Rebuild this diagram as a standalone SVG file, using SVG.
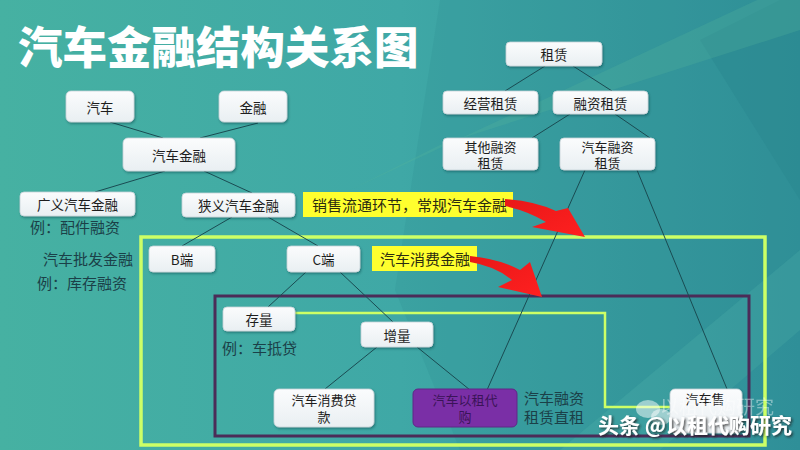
<svg xmlns="http://www.w3.org/2000/svg" width="800" height="450" viewBox="0 0 800 450">
<defs>
<linearGradient id="bg" x1="0" y1="0" x2="1" y2="0">
<stop offset="0" stop-color="#46b1a2"/>
<stop offset="0.5" stop-color="#3fa8a6"/>
<stop offset="1" stop-color="#2f8f98"/>
</linearGradient>
<linearGradient id="nodeg" x1="0" y1="0" x2="0" y2="1">
<stop offset="0" stop-color="#fbfcfd"/>
<stop offset="1" stop-color="#e9eff2"/>
</linearGradient>
<linearGradient id="redg" x1="0" y1="0" x2="1" y2="1">
<stop offset="0" stop-color="#e81818"/>
<stop offset="1" stop-color="#ff2020"/>
</linearGradient>
<filter id="sh" x="-10%" y="-10%" width="130%" height="140%">
<feDropShadow dx="1" dy="1.5" stdDeviation="1" flood-color="#0d3c40" flood-opacity="0.45"/>
</filter>
<filter id="tsh" x="-5%" y="-20%" width="115%" height="160%">
<feDropShadow dx="1.5" dy="1.5" stdDeviation="0.8" flood-color="#222" flood-opacity="0.8"/>
</filter>
</defs>
<style>
.node rect{fill:url(#nodeg);stroke:#c5d3d8;stroke-width:0.8}
.node text,.t{font-family:"Noto Sans CJK SC","Liberation Sans",sans-serif;font-size:13.5px;fill:#1d1d1d;text-anchor:middle;dominant-baseline:central}
.node text.s2,.t.s2{font-size:13px}
.note{font-family:"Noto Sans CJK SC","Liberation Sans",sans-serif;font-size:15px;fill:#1b4048;dominant-baseline:central}
.yl rect{fill:#ffff2e}
.yl text{font-family:"Noto Sans CJK SC","Liberation Sans",sans-serif;font-size:15px;fill:#2b2b10;dominant-baseline:central}
#connectors line{stroke:#1a4b52;stroke-width:1}
.arrow{fill:url(#redg)}
</style>

<rect width="800" height="450" fill="url(#bg)"/>
<polygon points="440,0 800,0 800,250 560,450 460,450 395,290" fill="#2f8f92" opacity="0.25"/>
<polygon points="700,40 780,0 800,0 800,200" fill="#2a8790" opacity="0.5"/>
<polygon points="350,190 800,-20 800,30 440,145" fill="#57b89a" opacity="0.25"/>
<polygon points="560,450 800,250 800,330 660,450" fill="#48aaa2" opacity="0.35"/>

<text x="18" y="64" font-family="'Noto Sans CJK SC','Liberation Sans',sans-serif" font-size="44.5" font-weight="900" fill="#ffffff">汽车金融结构关系图</text>

<g id="frames">
<rect x="141" y="237" width="624" height="208" fill="none" stroke="#cdff66" stroke-width="3.5"/>
<rect x="215" y="296" width="534" height="140" fill="none" stroke="#4b2c58" stroke-width="3"/>
<polyline points="295,313 605,313 605,407 670,407" fill="none" stroke="#cdff66" stroke-width="2.5"/>
</g>

<g id="connectors">
<line x1="110" y1="122" x2="163" y2="138"/>
<line x1="258" y1="123" x2="200" y2="138"/>
<line x1="165" y1="171" x2="95" y2="192"/>
<line x1="204" y1="171" x2="252" y2="193"/>
<line x1="232" y1="217" x2="182" y2="246"/>
<line x1="268" y1="217" x2="318" y2="246"/>
<line x1="306" y1="272" x2="268" y2="307"/>
<line x1="340" y1="272" x2="393" y2="322"/>
<line x1="377" y1="347" x2="325" y2="389"/>
<line x1="417" y1="347" x2="470" y2="390"/>
<line x1="545" y1="66" x2="505" y2="91"/>
<line x1="573" y1="66" x2="612" y2="91"/>
<line x1="570" y1="114" x2="532" y2="138"/>
<line x1="615" y1="114" x2="650" y2="138"/>
<line x1="585" y1="170" x2="487" y2="390"/>
<line x1="637" y1="170" x2="727" y2="389"/>
</g>

<g id="n-qiche" class="node"><rect x="66" y="91" width="68" height="31" rx="5" filter="url(#sh)"/><text x="100" y="106.5">汽车</text></g>
<g id="n-jinrong" class="node"><rect x="219" y="91" width="68" height="31" rx="5" filter="url(#sh)"/><text x="253" y="106.5">金融</text></g>
<g id="n-qichejinrong" class="node"><rect x="123" y="138" width="112" height="33" rx="5" filter="url(#sh)"/><text x="179" y="154.5">汽车金融</text></g>
<g id="n-guangyi" class="node"><rect x="20" y="192" width="115" height="24" rx="4" filter="url(#sh)"/><text x="77.5" y="204">广义汽车金融</text></g>
<g id="n-xiayi" class="node"><rect x="182" y="193" width="113" height="24" rx="4" filter="url(#sh)"/><text x="238.5" y="205">狭义汽车金融</text></g>
<g id="n-bduan" class="node"><rect x="149" y="246" width="66" height="26" rx="4" filter="url(#sh)"/><text x="182" y="259">B端</text></g>
<g id="n-cduan" class="node"><rect x="287" y="246" width="73" height="26" rx="4" filter="url(#sh)"/><text x="323.5" y="259">C端</text></g>
<g id="n-cunliang" class="node"><rect x="223" y="307" width="72" height="24" rx="4" filter="url(#sh)"/><text x="259" y="319">存量</text></g>
<g id="n-zengliang" class="node"><rect x="361" y="322" width="72" height="25" rx="4" filter="url(#sh)"/><text x="397" y="334.5">增量</text></g>
<g id="n-xiaofeidai" class="node"><rect x="274" y="389" width="100" height="38" rx="5" filter="url(#sh)"/><text class="s2" x="324" y="399">汽车消费贷</text><text class="s2" x="324" y="416.5">款</text></g>
<g id="n-yizudaigou"><rect x="413" y="389" width="104" height="38" rx="5" fill="#7a2fa6" stroke="#5e2886" stroke-width="1"/><text class="t s2" x="465" y="399" style="fill:#3a1458">汽车以租代</text><text class="t s2" x="465" y="416.5" style="fill:#3a1458">购</text></g>
<g id="n-shouhou" class="node"><rect x="670" y="389" width="72" height="44" rx="5" filter="url(#sh)"/><text class="s2" x="705" y="398">汽车售</text></g>
<g id="n-zulin" class="node"><rect x="506" y="42" width="96" height="24" rx="4" filter="url(#sh)"/><text x="554" y="54">租赁</text></g>
<g id="n-jingying" class="node"><rect x="443" y="91" width="95" height="23" rx="4" filter="url(#sh)"/><text x="490.5" y="102.5">经营租赁</text></g>
<g id="n-rongzi" class="node"><rect x="553" y="91" width="95" height="23" rx="4" filter="url(#sh)"/><text x="600.5" y="102.5">融资租赁</text></g>
<g id="n-qita" class="node"><rect x="443" y="138" width="95" height="32" rx="4" filter="url(#sh)"/><text class="s2" x="490.5" y="146">其他融资</text><text class="s2" x="490.5" y="162.5">租赁</text></g>
<g id="n-qicherongzi" class="node"><rect x="560" y="138" width="95" height="32" rx="4" filter="url(#sh)"/><text class="s2" x="607.5" y="146">汽车融资</text><text class="s2" x="607.5" y="162.5">租赁</text></g>

<g id="notes">
<text class="note" x="30" y="226">例：配件融资</text>
<text class="note" x="43" y="258">汽车批发金融</text>
<text class="note" x="37" y="282">例：库存融资</text>
<text class="note" x="222" y="347">例：车抵贷</text>
<text class="note" x="524" y="397">汽车融资</text>
<text class="note" x="524" y="416">租赁直租</text>
</g>

<g id="label-xiaoshou" class="yl"><rect x="303" y="192" width="210" height="25"/><text x="312" y="204.5">销售流通环节，常规汽车金融</text></g>
<g id="label-xiaofei" class="yl"><rect x="372" y="246" width="105" height="25"/><text x="380" y="258.5">汽车消费金融</text></g>

<g id="arrows">
<path class="arrow" d="M505,199 Q535,201 556,211 L568,208 L585,237 L532,227 L546,222 Q528,211 505,206 Z"/>
<path class="arrow" d="M470,256 Q500,259 520,270 L530,262 L542,297 L498,287 L512,280 Q495,266 470,262 Z"/>
</g>

<g id="watermark">
<ellipse cx="648" cy="409" rx="12" ry="9" fill="#ffffff" opacity="0.5"/>
<ellipse cx="661" cy="417" rx="10" ry="8" fill="#ffffff" opacity="0.5"/>
<text x="660" y="414" font-family="'Noto Sans CJK SC',sans-serif" font-size="19" fill="#ffffff" opacity="0.4">以租代购研究</text>
<text x="598" y="433" font-family="'Noto Sans CJK SC',sans-serif" font-size="21" font-weight="700" fill="#ffffff" filter="url(#tsh)">头条 @以租代购研究</text>
</g>
</svg>
